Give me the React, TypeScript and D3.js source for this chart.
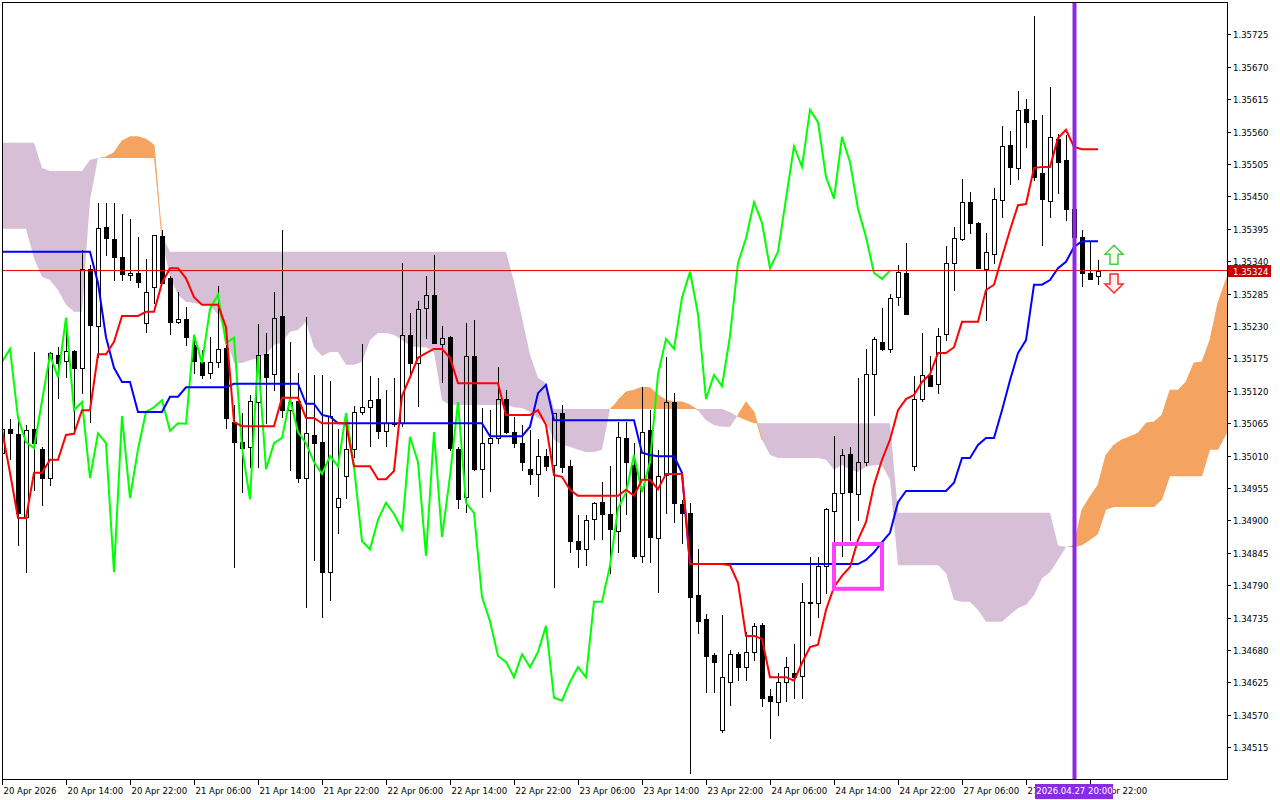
import React from "react";
import * as d3 from "d3";

// ---- H1 candles, bar 0 = 20 Apr 2026 06:00, bar 137 = 27 Apr 23:00 ----
const open = [
  1.35015, 1.35055, 1.35047, 1.34906, 1.35055, 1.35021, 1.34972, 1.35181, 1.35171, 1.35188,
  1.35159, 1.35327, 1.35230, 1.35398, 1.35378, 1.35347, 1.35316, 1.35320, 1.35235, 1.35296,
  1.35383, 1.35311, 1.35237, 1.35242, 1.35198, 1.35169, 1.35150, 1.35169, 1.35193, 1.35067,
  1.35033, 1.35025, 1.35101, 1.35182, 1.35148, 1.35247, 1.35087, 1.35103, 1.34972, 1.35045,
  1.35033, 1.34812, 1.34923, 1.34975, 1.35021, 1.35084, 1.35092, 1.35106, 1.35052, 1.35065,
  1.35065, 1.35215, 1.35167, 1.35261, 1.35283, 1.35199, 1.35211, 1.35021, 1.34940, 1.35179,
  1.34987, 1.35031, 1.35040, 1.35106, 1.35050, 1.35031, 1.34987, 1.34979, 1.35009, 1.34994,
  1.35082, 1.34992, 1.34865, 1.34851, 1.34903, 1.34931, 1.34911, 1.34882, 1.35040, 1.34994,
  1.34840, 1.35054, 1.34870, 1.34977, 1.35101, 1.34928, 1.34913, 1.34773, 1.34733, 1.34672,
  1.34544, 1.34626, 1.34673, 1.34651, 1.34677, 1.34723, 1.34602, 1.34592, 1.34626, 1.34641,
  1.34636, 1.34760, 1.34760, 1.34823, 1.34916, 1.34947, 1.35013, 1.34945, 1.34999, 1.35148,
  1.35203, 1.35191, 1.35279, 1.35320, 1.34992, 1.35106, 1.35147, 1.35132, 1.35216, 1.35337,
  1.35378, 1.35440, 1.35405, 1.35327, 1.35352, 1.35444, 1.35537, 1.35498, 1.35598, 1.35580,
  1.35490, 1.35442, 1.35547, 1.35512, 1.35429, 1.35381, 1.35320, 1.35315,
];
const high = [
  1.35062, 1.35072, 1.35070, 1.35062, 1.35186, 1.35025, 1.35186, 1.35194, 1.35223, 1.35189,
  1.35359, 1.35333, 1.35439, 1.35439, 1.35439, 1.35420, 1.35412, 1.35381, 1.35344, 1.35384,
  1.35393, 1.35315, 1.35288, 1.35262, 1.35210, 1.35189, 1.35211, 1.35298, 1.35198, 1.35096,
  1.35082, 1.35113, 1.35233, 1.35218, 1.35288, 1.35393, 1.35203, 1.35150, 1.35245, 1.35147,
  1.35147, 1.35137, 1.35055, 1.35082, 1.35094, 1.35199, 1.35145, 1.35142, 1.35121, 1.35142,
  1.35337, 1.35252, 1.35272, 1.35315, 1.35350, 1.35230, 1.35213, 1.35025, 1.35235, 1.35240,
  1.35091, 1.35087, 1.35160, 1.35121, 1.35076, 1.35062, 1.35054, 1.35038, 1.35021, 1.35082,
  1.35096, 1.35003, 1.34909, 1.34909, 1.34931, 1.34965, 1.34992, 1.35067, 1.35067, 1.35031,
  1.35126, 1.35087, 1.35020, 1.35177, 1.35116, 1.34935, 1.34930, 1.34851, 1.34741, 1.34675,
  1.34740, 1.34680, 1.34677, 1.34711, 1.34726, 1.34726, 1.34614, 1.34641, 1.34668, 1.34690,
  1.34794, 1.34838, 1.34838, 1.34921, 1.35043, 1.35021, 1.35025, 1.35142, 1.35191, 1.35211,
  1.35261, 1.35284, 1.35333, 1.35371, 1.35145, 1.35218, 1.35179, 1.35227, 1.35366, 1.35398,
  1.35479, 1.35457, 1.35406, 1.35388, 1.35464, 1.35569, 1.35561, 1.35629, 1.35615, 1.35756,
  1.35588, 1.35636, 1.35556, 1.35554, 1.35444, 1.35393, 1.35373, 1.35342,
];
const low = [
  1.35003, 1.35004, 1.34858, 1.34812, 1.34952, 1.34926, 1.34960, 1.35108, 1.35143, 1.35054,
  1.35116, 1.35067, 1.35177, 1.35350, 1.35308, 1.35308, 1.35308, 1.35296, 1.35220, 1.35269,
  1.35303, 1.35216, 1.35235, 1.35198, 1.35150, 1.35142, 1.35142, 1.35160, 1.35057, 1.34821,
  1.34948, 1.34991, 1.34991, 1.35065, 1.35121, 1.35076, 1.34986, 1.34965, 1.34753, 1.34833,
  1.34736, 1.34765, 1.34879, 1.34938, 1.35008, 1.35081, 1.35026, 1.35040, 1.35026, 1.35060,
  1.35060, 1.35143, 1.35094, 1.35210, 1.35201, 1.35135, 1.35020, 1.34921, 1.34914, 1.34986,
  1.34940, 1.34950, 1.35031, 1.35048, 1.35025, 1.34986, 1.34962, 1.34942, 1.34986, 1.34787,
  1.34982, 1.34846, 1.34821, 1.34824, 1.34869, 1.34869, 1.34811, 1.34846, 1.34911, 1.34836,
  1.34830, 1.34830, 1.34779, 1.34913, 1.34897, 1.34862, 1.34471, 1.34709, 1.34609, 1.34609,
  1.34541, 1.34587, 1.34629, 1.34629, 1.34663, 1.34585, 1.34531, 1.34570, 1.34594, 1.34599,
  1.34599, 1.34706, 1.34736, 1.34777, 1.34855, 1.34840, 1.34867, 1.34901, 1.34994, 1.35079,
  1.35189, 1.35186, 1.35266, 1.35250, 1.34986, 1.35103, 1.35128, 1.35116, 1.35206, 1.35291,
  1.35376, 1.35388, 1.35328, 1.35240, 1.35337, 1.35415, 1.35471, 1.35479, 1.35534, 1.35478,
  1.35367, 1.35415, 1.35456, 1.35410, 1.35367, 1.35298, 1.35310, 1.35301,
];
const close = [
  1.35055, 1.35048, 1.34913, 1.35054, 1.35031, 1.34972, 1.35184, 1.35167, 1.35188, 1.35159,
  1.35327, 1.35232, 1.35396, 1.35379, 1.35347, 1.35318, 1.35320, 1.35305, 1.35288, 1.35384,
  1.35303, 1.35237, 1.35242, 1.35211, 1.35171, 1.35147, 1.35169, 1.35191, 1.35074, 1.35033,
  1.35023, 1.35103, 1.35181, 1.35143, 1.35244, 1.35087, 1.35101, 1.34972, 1.35048, 1.35031,
  1.34812, 1.35077, 1.34938, 1.35021, 1.35084, 1.35092, 1.35104, 1.35052, 1.35065, 1.35064,
  1.35215, 1.35167, 1.35259, 1.35283, 1.35201, 1.35210, 1.35023, 1.34936, 1.35179, 1.34987,
  1.35031, 1.35040, 1.35106, 1.35050, 1.35031, 1.34999, 1.34979, 1.35009, 1.34992, 1.35082,
  1.34991, 1.34865, 1.34851, 1.34901, 1.34930, 1.34911, 1.34885, 1.35042, 1.34999, 1.34840,
  1.35050, 1.34872, 1.34975, 1.35101, 1.34930, 1.34913, 1.34770, 1.34729, 1.34670, 1.34660,
  1.34634, 1.34673, 1.34651, 1.34677, 1.34721, 1.34599, 1.34594, 1.34626, 1.34651, 1.34634,
  1.34762, 1.34762, 1.34823, 1.34920, 1.34947, 1.35011, 1.34948, 1.34999, 1.35148, 1.35208,
  1.35191, 1.35278, 1.35322, 1.35250, 1.35106, 1.35147, 1.35128, 1.35213, 1.35337, 1.35379,
  1.35440, 1.35405, 1.35328, 1.35356, 1.35446, 1.35535, 1.35500, 1.35597, 1.35576, 1.35483,
  1.35446, 1.35551, 1.35508, 1.35429, 1.35381, 1.35320, 1.35310, 1.35324,
];

// ---- Ichimoku lines ----
const tenkan = [
  1.35054, 1.34981, 1.34904, 1.34904, 1.34981, 1.34981, 1.35003, 1.35003, 1.35045, 1.35047,
  1.35087, 1.35087, 1.35182, 1.35182, 1.35203, 1.35247, 1.35247, 1.35247, 1.35254, 1.35254,
  1.35303, 1.35328, 1.35328, 1.35311, 1.35279, 1.35266, 1.35266, 1.35266, 1.35228, 1.35067,
  1.35060, 1.35060, 1.35060, 1.35060, 1.35060, 1.35108, 1.35108, 1.35108, 1.35074, 1.35074,
  1.35065, 1.35065, 1.35065, 1.35065, 1.34992, 1.34992, 1.34992, 1.34970, 1.34970, 1.34984,
  1.35111, 1.35143, 1.35176, 1.35184, 1.35191, 1.35191, 1.35176, 1.35133, 1.35133, 1.35133,
  1.35133, 1.35133, 1.35133, 1.35079, 1.35079, 1.35079, 1.35079, 1.35087, 1.35062, 1.34977,
  1.34974, 1.34952, 1.34942, 1.34942, 1.34942, 1.34942, 1.34942, 1.34942, 1.34952, 1.34942,
  1.34969, 1.34969, 1.34953, 1.34979, 1.34979, 1.34979, 1.34826, 1.34826, 1.34826, 1.34826,
  1.34826, 1.34824, 1.34794, 1.34704, 1.34704, 1.34699, 1.34634, 1.34634, 1.34634, 1.34628,
  1.34658, 1.34685, 1.34689, 1.34748, 1.34787, 1.34806, 1.34821, 1.34867, 1.34897, 1.34960,
  1.35003, 1.35037, 1.35087, 1.35106, 1.35113, 1.35135, 1.35148, 1.35184, 1.35184, 1.35194,
  1.35237, 1.35237, 1.35237, 1.35291, 1.35300, 1.35347, 1.35393, 1.35435, 1.35437, 1.35498,
  1.35500, 1.35500, 1.35549, 1.35563, 1.35534, 1.35530, 1.35530, 1.35530,
];
const kijun = [
  1.35356, 1.35356, 1.35356, 1.35356, 1.35356, 1.35356, 1.35356, 1.35356, 1.35356, 1.35356,
  1.35356, 1.35356, 1.35303, 1.35211, 1.35159, 1.35135, 1.35135, 1.35084, 1.35084, 1.35084,
  1.35084, 1.35110, 1.35110, 1.35126, 1.35126, 1.35126, 1.35126, 1.35126, 1.35126, 1.35132,
  1.35132, 1.35132, 1.35132, 1.35132, 1.35132, 1.35132, 1.35132, 1.35132, 1.35098, 1.35098,
  1.35079, 1.35076, 1.35065, 1.35065, 1.35065, 1.35065, 1.35065, 1.35065, 1.35065, 1.35065,
  1.35065, 1.35065, 1.35065, 1.35065, 1.35065, 1.35065, 1.35065, 1.35065, 1.35065, 1.35065,
  1.35065, 1.35043, 1.35043, 1.35043, 1.35043, 1.35043, 1.35059, 1.35116, 1.35130, 1.35070,
  1.35070, 1.35070, 1.35070, 1.35070, 1.35070, 1.35070, 1.35070, 1.35070, 1.35070, 1.35070,
  1.35015, 1.35011, 1.35009, 1.35009, 1.35009, 1.34981, 1.34826, 1.34826, 1.34826, 1.34826,
  1.34826, 1.34826, 1.34826, 1.34826, 1.34826, 1.34826, 1.34826, 1.34826, 1.34826, 1.34826,
  1.34826, 1.34826, 1.34826, 1.34826, 1.34826, 1.34826, 1.34826, 1.34826, 1.34833, 1.34846,
  1.34863, 1.34879, 1.34931, 1.34950, 1.34950, 1.34950, 1.34950, 1.34950, 1.34950, 1.34964,
  1.35006, 1.35006, 1.35028, 1.35040, 1.35040, 1.35087, 1.35138, 1.35184, 1.35206, 1.35300,
  1.35300, 1.35308, 1.35328, 1.35339, 1.35364, 1.35374, 1.35374, 1.35374,
];
// Senkou spans as plotted (already shifted 26 bars forward), bar 0..154
const spanA = [
  1.35395, 1.35395, 1.35395, 1.35395, 1.35345, 1.35313, 1.35308, 1.35291, 1.35266, 1.35254,
  1.35254, 1.35444, 1.35515, 1.35517, 1.35524, 1.35544, 1.35551, 1.35551, 1.35547, 1.35537,
  1.35376, 1.35313, 1.35283, 1.35271, 1.35269, 1.35266, 1.35266, 1.35249, 1.35215, 1.35167,
  1.35167, 1.35172, 1.35176, 1.35181, 1.35198, 1.35201, 1.35220, 1.35223, 1.35237, 1.35194,
  1.35179, 1.35186, 1.35186, 1.35164, 1.35164, 1.35169, 1.35206, 1.35218, 1.35218, 1.35215,
  1.35206, 1.35196, 1.35194, 1.35194, 1.35186, 1.35104, 1.35096, 1.35096, 1.35096, 1.35096,
  1.35096, 1.35096, 1.35096, 1.35096, 1.35092, 1.35091, 1.35084, 1.35074, 1.35067, 1.35037,
  1.35028, 1.35025, 1.35020, 1.35016, 1.35016, 1.35020, 1.35089, 1.35104, 1.35118, 1.35121,
  1.35126, 1.35125, 1.35113, 1.35104, 1.35101, 1.35101, 1.35096, 1.35087, 1.35070, 1.35062,
  1.35059, 1.35059, 1.35079, 1.35101, 1.35084, 1.35037, 1.35011, 1.35006, 1.35006, 1.35006,
  1.35006, 1.35006, 1.35006, 1.35003, 1.34986, 1.34994, 1.34986, 1.34982, 1.34991, 1.34994,
  1.34994, 1.34969, 1.34824, 1.34824, 1.34824, 1.34824, 1.34824, 1.34824, 1.34811, 1.34765,
  1.34762, 1.34762, 1.34748, 1.34728, 1.34728, 1.34728, 1.34740, 1.34751, 1.34757, 1.34773,
  1.34802, 1.34812, 1.34833, 1.34855, 1.34858, 1.34918, 1.34940, 1.34960, 1.35011, 1.35028,
  1.35037, 1.35042, 1.35048, 1.35065, 1.35067, 1.35079, 1.35121, 1.35121, 1.35135, 1.35167,
  1.35169, 1.35206, 1.35269, 1.35308, 1.35342,
];
const spanB = [
  1.35541, 1.35541, 1.35541, 1.35541, 1.35541, 1.35498, 1.35493, 1.35493, 1.35493, 1.35493,
  1.35493, 1.35512, 1.35515, 1.35515, 1.35515, 1.35515, 1.35515, 1.35515, 1.35515, 1.35515,
  1.35383, 1.35356, 1.35356, 1.35356, 1.35356, 1.35356, 1.35356, 1.35356, 1.35356, 1.35356,
  1.35356, 1.35356, 1.35356, 1.35356, 1.35356, 1.35356, 1.35356, 1.35356, 1.35356, 1.35356,
  1.35356, 1.35356, 1.35356, 1.35356, 1.35356, 1.35356, 1.35356, 1.35356, 1.35356, 1.35356,
  1.35356, 1.35356, 1.35356, 1.35356, 1.35356, 1.35356, 1.35356, 1.35356, 1.35356, 1.35356,
  1.35356, 1.35356, 1.35356, 1.35356, 1.35305, 1.35244, 1.35181, 1.35142, 1.35133, 1.35089,
  1.35089, 1.35089, 1.35089, 1.35089, 1.35089, 1.35089, 1.35089, 1.35089, 1.35089, 1.35089,
  1.35089, 1.35089, 1.35089, 1.35089, 1.35089, 1.35089, 1.35089, 1.35089, 1.35089, 1.35089,
  1.35089, 1.35084, 1.35076, 1.35070, 1.35065, 1.35065, 1.35065, 1.35065, 1.35065, 1.35065,
  1.35065, 1.35065, 1.35065, 1.35065, 1.35065, 1.35065, 1.35065, 1.35065, 1.35065, 1.35065,
  1.35065, 1.35065, 1.34913, 1.34913, 1.34913, 1.34913, 1.34913, 1.34913, 1.34913, 1.34913,
  1.34913, 1.34913, 1.34913, 1.34913, 1.34913, 1.34913, 1.34913, 1.34913, 1.34913, 1.34913,
  1.34913, 1.34913, 1.34858, 1.34855, 1.34855, 1.34858, 1.34867, 1.34877, 1.34918, 1.34923,
  1.34923, 1.34923, 1.34923, 1.34923, 1.34923, 1.34935, 1.34975, 1.34975, 1.34975, 1.34975,
  1.34975, 1.35020, 1.35020, 1.35045, 1.35070,
];
const chikouShift = 26;

// ---- axes ----
const priceTicks = [
  "1.34515", "1.34570", "1.34625", "1.34680", "1.34735", "1.34790", "1.34845", "1.34900",
  "1.34955", "1.35010", "1.35065", "1.35120", "1.35175", "1.35230", "1.35285", "1.35340",
  "1.35395", "1.35450", "1.35505", "1.35560", "1.35615", "1.35670", "1.35725",
];
const timeTickBars = [0, 8, 16, 24, 32, 40, 48, 56, 64, 72, 80, 88, 96, 104, 112, 120, 128, 136];
const timeTickLabels = [
  "20 Apr 2026", "20 Apr 14:00", "20 Apr 22:00", "21 Apr 06:00", "21 Apr 14:00", "21 Apr 22:00",
  "22 Apr 06:00", "22 Apr 14:00", "22 Apr 22:00", "23 Apr 06:00", "23 Apr 14:00", "23 Apr 22:00",
  "24 Apr 06:00", "24 Apr 14:00", "24 Apr 22:00", "27 Apr 06:00", "27 Apr 14:00", "27 Apr 22:00",
];
const lastPrice = 1.35324;
const lastPriceLabel = "1.35324";
const vlineBar = 134;
const vlineLabel = "2026.04.27 20:00";
const boxBars = [104, 110];
const boxPrices = [1.34784, 1.3486];
const arrowBar = 139;
const upArrowTop = 1.35367;
const downArrowBottom = 1.35286;

const FONT = "'DejaVu Sans Condensed', 'DejaVu Sans', sans-serif";

export default function App() {
  const PL = 2, PR = 1227, PT = 2, PB = 779;
  const x = d3.scaleLinear().domain([0, 1]).range([2, 10]);
  const y = d3.scaleLinear().domain([1.34515, 1.35725]).range([747.3, 34.3]);

  // cloud with crossing points
  type CP = { x: number; a: number; b: number };
  const pts: CP[] = [];
  for (let i = 0; i < spanA.length; i++) {
    pts.push({ x: x(i), a: spanA[i], b: spanB[i] });
    if (i < spanA.length - 1) {
      const d0 = spanA[i] - spanB[i];
      const d1 = spanA[i + 1] - spanB[i + 1];
      if (d0 * d1 < 0) {
        const t = d0 / (d0 - d1);
        const v = spanA[i] + t * (spanA[i + 1] - spanA[i]);
        pts.push({ x: x(i + t), a: v, b: v });
      }
    }
  }
  const upArea = d3
    .area<CP>()
    .x((d) => d.x)
    .y0((d) => y(d.b))
    .y1((d) => y(Math.max(d.a, d.b)));
  const dnArea = d3
    .area<CP>()
    .x((d) => d.x)
    .y0((d) => y(d.a))
    .y1((d) => y(Math.max(d.a, d.b)));

  const line = d3
    .line<number>()
    .x((_, i) => x(i))
    .y((d) => y(d));
  const chikou = close.slice(chikouShift);

  // Span A edge line, visible only where the bullish (sandy) cloud starts a segment
  const spanASegs: string[] = [];
  for (let i = 0; i < spanA.length - 1; i++) {
    if (spanA[i] > spanB[i]) {
      spanASegs.push(`M${x(i)},${y(spanA[i])}L${x(i + 1)},${y(spanA[i + 1])}`);
    }
  }

  const candles = close.map((c, i) => {
    const o = open[i];
    const cx = Math.round(x(i));
    const yt = Math.round(y(Math.max(o, c)));
    const yb = Math.round(y(Math.min(o, c)));
    const yh = Math.round(y(high[i]));
    const yl = Math.round(y(low[i]));
    const bull = c > o;
    return (
      <g key={i}>
        {yh < yt && <line x1={cx + 0.5} x2={cx + 0.5} y1={yh} y2={yt} stroke="#000" />}
        {yl > yb && <line x1={cx + 0.5} x2={cx + 0.5} y1={yb + 1} y2={yl + 1} stroke="#000" />}
        {bull ? (
          <rect x={cx - 1.5} y={yt + 0.5} width={4} height={Math.max(yb - yt, 1)} fill="none" stroke="#000" />
        ) : (
          <rect x={cx - 2} y={yt} width={5} height={Math.max(yb - yt + 1, 1)} fill="#000" />
        )}
      </g>
    );
  });

  const yLast = y(lastPrice);
  const vx = x(vlineBar);
  const ax = x(arrowBar);
  const ua = y(upArrowTop);
  const da = y(downArrowBottom);

  return (
    <svg
      width={1280}
      height={800}
      style={{ position: "absolute", left: 0, top: 0, background: "#fff" }}
      fontFamily={FONT}
    >
      <defs>
        <clipPath id="plot">
          <rect x={PL} y={PT} width={PR - PL} height={PB - PT} />
        </clipPath>
      </defs>
      <rect x={0} y={0} width={1280} height={800} fill="#fff" />
      <g clipPath="url(#plot)">
        <path d={dnArea(pts) || ""} fill="#D8BFD8" />
        <path d={upArea(pts) || ""} fill="#F4A460" />
        <path d={spanASegs.join("")} fill="none" stroke="#F4A460" strokeWidth={1} />
        <g shapeRendering="crispEdges">{candles}</g>
        <path d={line(chikou) || ""} fill="none" stroke="#00FF00" strokeWidth={2} />
        <path d={line(kijun) || ""} fill="none" stroke="#0000FF" strokeWidth={2} />
        <path d={line(tenkan) || ""} fill="none" stroke="#FF0000" strokeWidth={2} />
        <line x1={PL} x2={PR} y1={yLast} y2={yLast} stroke="#E00000" strokeWidth={1} />
        <rect
          x={x(boxBars[0])}
          y={y(boxPrices[1])}
          width={x(boxBars[1]) - x(boxBars[0])}
          height={y(boxPrices[0]) - y(boxPrices[1])}
          fill="none"
          stroke="#FF40FF"
          strokeWidth={4}
        />
        <line x1={vx + 0.5} x2={vx + 0.5} y1={PT} y2={PB} stroke="#8A2BE2" strokeWidth={4} />
        {/* arrows */}
        <path
          d={`M${ax},${ua} L${ax + 9},${ua + 9} L${ax + 4},${ua + 9} L${ax + 4},${ua + 19} L${ax - 4},${ua + 19} L${ax - 4},${ua + 9} L${ax - 9},${ua + 9} Z`}
          fill="#FAFFF0"
          stroke="#4CC84C"
          strokeWidth={1.5}
        />
        <path
          d={`M${ax},${da} L${ax + 9},${da - 9} L${ax + 4},${da - 9} L${ax + 4},${da - 19} L${ax - 4},${da - 19} L${ax - 4},${da - 9} L${ax - 9},${da - 9} Z`}
          fill="#FFF0F4"
          stroke="#FF2A2A"
          strokeWidth={1.5}
        />
      </g>
      {/* frame */}
      <rect x={PL + 0.5} y={PT + 0.5} width={PR - PL} height={PB - PT} fill="none" stroke="#000" shapeRendering="crispEdges" />
      {/* price axis */}
      <g fontSize={9.5} fill="#000" style={{ fontStretch: "condensed" }}>
        {priceTicks.map((t) => {
          const yy = Math.round(y(+t)) + 0.5;
          return (
            <g key={t}>
              <line x1={PR} x2={PR + 4} y1={yy} y2={yy} stroke="#000" shapeRendering="crispEdges" />
              <text x={PR + 6} y={yy} dominantBaseline="central">
                {t}
              </text>
            </g>
          );
        })}
      </g>
      <rect x={PR + 1} y={Math.round(yLast) - 6} width={43} height={12} fill="#C80000" />
      <text
        x={PR + 6}
        y={Math.round(yLast)}
        dominantBaseline="central"
        fontSize={9.5}
        fill="#fff"
        style={{ fontStretch: "condensed" }}
      >
        {lastPriceLabel}
      </text>
      {/* time axis */}
      <g fontSize={9.5} fill="#000" style={{ fontStretch: "condensed" }}>
        {timeTickBars.map((b, k) => {
          const xx = Math.round(x(b)) + 0.5;
          return (
            <g key={b}>
              <line x1={xx} x2={xx} y1={PB} y2={PB + 6} stroke="#000" shapeRendering="crispEdges" />
              <text x={xx + 1} y={PB + 15}>
                {timeTickLabels[k]}
              </text>
            </g>
          );
        })}
      </g>
      <rect x={vx - 39} y={PB + 5} width={78} height={15} fill="#8A2BE2" />
      <text
        x={vx + 0.5}
        y={PB + 15}
        textAnchor="middle"
        fontSize={9.5}
        fill="#fff"
        style={{ fontStretch: "condensed" }}
      >
        {vlineLabel}
      </text>
    </svg>
  );
}
